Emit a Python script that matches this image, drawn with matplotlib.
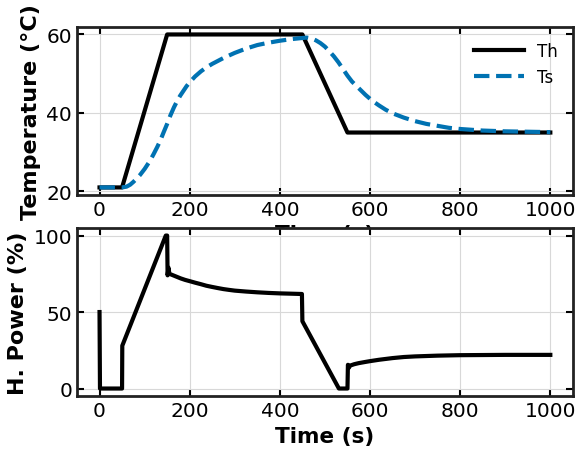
import matplotlib
matplotlib.use('Agg')
import matplotlib.pyplot as plt

# Heater temperature set-point (piecewise linear breakpoints)
th_time = [0, 50, 150, 450, 550, 1000]
th_temp = [21, 21, 60, 60, 35, 35]

# Sensor temperature
ts_time = [0, 25, 50, 60, 68, 75, 82, 90, 100, 112, 120, 128, 135, 142, 150,
           157, 165, 172, 179, 186, 193, 200, 212, 225, 237, 250, 275, 300,
           325, 350, 375, 400, 425, 450, 460, 470, 480, 490, 500, 510, 520,
           530, 540, 550, 560, 575, 590, 605, 620, 635, 650, 675, 700, 725,
           750, 775, 800, 850, 900, 950, 1000]
ts_temp = [21, 21, 21, 21.2, 21.7, 22.4, 23.2, 24.2, 25.7, 27.8, 29.5, 31.3,
           33.0, 35.0, 37.2, 39.3, 41.4, 43.0, 44.4, 45.6, 46.8, 47.8, 49.3,
           50.6, 51.6, 52.5, 54.0, 55.3, 56.4, 57.3, 57.9, 58.4, 58.8, 59.1,
           59.2, 59.0, 58.5, 57.8, 56.9, 55.7, 54.4, 52.9, 51.2, 49.5, 48.0,
           46.3, 44.6, 43.1, 41.9, 40.8, 39.9, 38.8, 37.9, 37.2, 36.7, 36.2,
           35.9, 35.5, 35.3, 35.2, 35.1]

# Heater power (%)
p_time = [0, 1, 50, 50.5, 147, 150, 151, 153, 155, 160, 170, 180, 190, 200,
          212, 225, 237, 250, 262, 275, 287, 300, 325, 350, 375, 400, 425,
          449, 450, 531, 550, 551, 553, 556, 565, 575, 590, 600, 620, 650,
          675, 700, 750, 800, 900, 1000]
p_val = [50, 0, 0, 28, 100, 100, 74, 79, 75, 74.4, 73.2, 72.0, 71.0, 70.2,
         69.2, 68.2, 67.2, 66.4, 65.7, 65.0, 64.5, 64.0, 63.4, 62.9, 62.5,
         62.2, 62.0, 61.8, 44, 0, 0, 15.5, 13.5, 15, 15.9, 16.6, 17.4, 17.9,
         18.8, 19.9, 20.6, 21.0, 21.5, 21.8, 22.0, 22.0]

fig = plt.figure(figsize=(5.81, 4.56), dpi=100)
ax1 = fig.add_axes([0.1325, 0.570, 0.8535, 0.369])
ax2 = fig.add_axes([0.1325, 0.129, 0.8535, 0.369])

ax1.plot(th_time, th_temp, color='black', lw=3, label='Th')
ax1.plot(ts_time, ts_temp, color='#0072B2', lw=3, ls='--', label='Ts')
ax1.set_yticks([20, 40, 60])
ax1.set_ylabel('Temperature (°C)', fontsize=16, fontweight='bold')
ax1.set_xlabel('Time (s)', fontsize=15.5, fontweight='bold')
ax1.legend(loc='upper right', frameon=False, fontsize=12, handlelength=3)

ax2.plot(p_time, p_val, color='black', lw=3)
ax2.set_yticks([0, 50, 100])
ax2.set_ylabel('H. Power (%)', fontsize=16, fontweight='bold')
ax2.set_xlabel('Time (s)', fontsize=15.5, fontweight='bold')

for ax in (ax1, ax2):
    ax.set_xticks([0, 200, 400, 600, 800, 1000])
    ax.grid(True, color='#d8d8d8', lw=0.8)
    ax.set_axisbelow(True)
    ax.tick_params(direction='in', top=True, right=True, length=5, width=1.5,
                   labelsize=14.5)
    for s in ax.spines.values():
        s.set_linewidth(2)
        s.set_color('#222222')

fig.savefig('out.png', dpi=100)
